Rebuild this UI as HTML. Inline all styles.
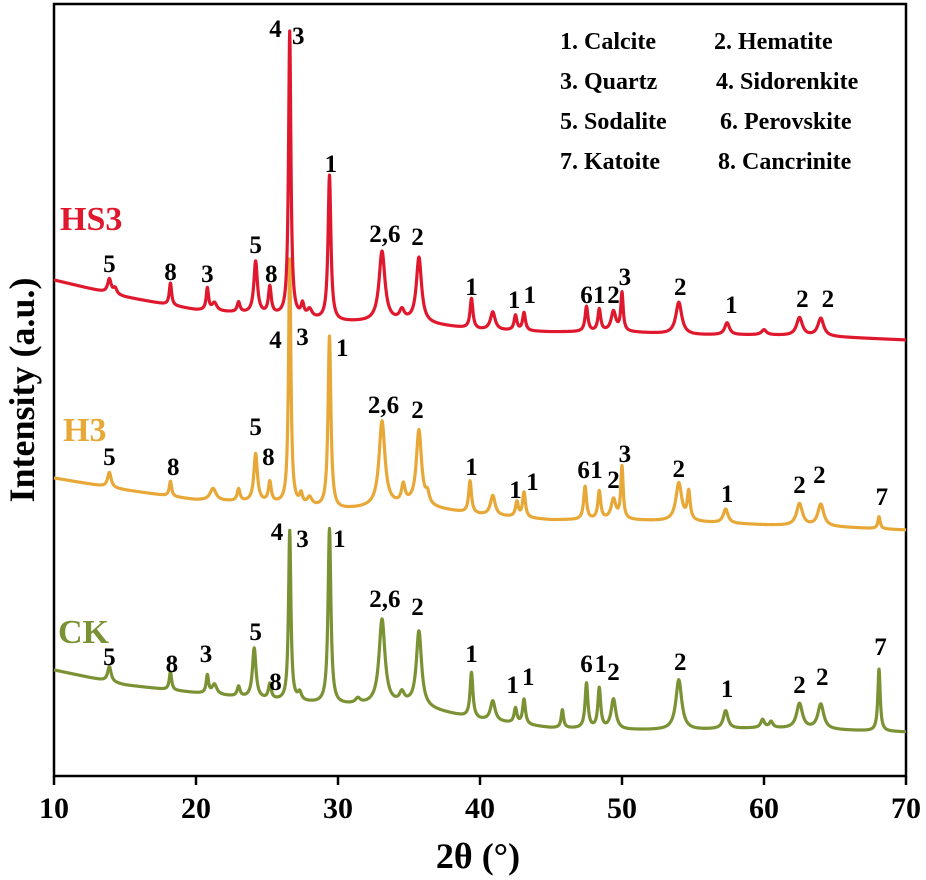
<!DOCTYPE html>
<html><head><meta charset="utf-8"><style>
html,body{margin:0;padding:0;background:#fff}
svg{display:block}
text{font-family:"Liberation Serif",serif;font-weight:bold}
</style></head><body>
<svg id="chart" width="926" height="880" viewBox="0 0 926 880" xmlns="http://www.w3.org/2000/svg">
<rect x="54" y="4" width="852" height="772" fill="none" stroke="#000" stroke-width="2.5"/>
<g id="xticks"></g>
<g id="series"></g>
<g id="peaklabels"></g>
<text x="478" y="868" font-size="36" text-anchor="middle">2θ (°)</text>
<text transform="translate(34,390) rotate(-90)" font-size="36" text-anchor="middle">Intensity (a.u.)</text>
<text x="60" y="230" font-size="34" fill="#e0182d">HS3</text>
<text x="63" y="441" font-size="34" fill="#e8a838">H3</text>
<text x="58" y="643" font-size="34" fill="#7a9233">CK</text>
<g font-size="24">
<text x="560" y="49">1. Calcite</text>
<text x="714" y="49">2. Hematite</text>
<text x="560" y="89">3. Quartz</text>
<text x="716" y="89">4. Sidorenkite</text>
<text x="560" y="129">5. Sodalite</text>
<text x="720" y="129">6. Perovskite</text>
<text x="560" y="169">7. Katoite</text>
<text x="718" y="169">8. Cancrinite</text>
</g>
</svg>
<script>
// x-axis data
const xTicks = [10,20,30,40,50,60,70];
// baseline knots (theta) and baseline levels (a.u.)
const baseTheta = [10,15,20,25,30,35,40,45,50,55,60,65,70];
const hs3Base = [496,479,466,461,454,454,446,444,444,441,441,439,436];
const h3Base  = [298,286,276,273,266,271,261,256,256,254,251,249,246];
const ckBase  = [106,91,83,76,71,71,56,48,46,46,48,46,44];
// peaks: positions (2θ), heights (a.u.), widths (°)
const hs3PeakPos = [13.9,14.3,18.2,20.8,21.3,23.0,24.2,25.2,26.6,27.5,28.0,29.4,33.1,34.5,35.7,39.4,40.9,42.5,43.1,47.5,48.4,49.4,50.0,54.0,57.4,60.0,62.5,64.0];
const hs3PeakH   = [14,6,22,22,8,10,52,27,285,12,8,145,70,10,65,30,18,15,18,25,22,20,38,32,12,5,18,18];
const hs3PeakW   = [0.15,0.15,0.1,0.1,0.2,0.12,0.15,0.12,0.1,0.12,0.2,0.12,0.25,0.2,0.22,0.12,0.2,0.12,0.12,0.12,0.12,0.2,0.1,0.25,0.2,0.2,0.25,0.25];
const h3PeakPos = [13.9,18.2,21.2,23.0,24.2,25.2,26.6,27.4,28.0,29.4,33.1,34.6,35.7,36.3,39.3,40.9,42.6,43.1,47.4,48.4,49.4,50.0,54.0,54.7,57.3,62.5,64.0,68.1];
const h3PeakH   = [15,15,12,12,48,20,245,10,8,172,85,18,75,10,32,20,15,25,33,28,20,52,38,28,14,22,22,12];
const h3PeakW   = [0.15,0.1,0.25,0.12,0.15,0.12,0.1,0.12,0.2,0.12,0.25,0.15,0.22,0.15,0.12,0.2,0.12,0.12,0.12,0.12,0.2,0.1,0.25,0.12,0.2,0.25,0.25,0.1];
const ckPeakPos = [13.9,18.2,20.8,21.3,23.0,24.1,25.2,26.6,27.3,29.4,31.4,33.1,34.5,35.7,39.4,40.9,42.5,43.1,45.8,47.5,48.4,49.4,54.0,57.3,59.9,60.5,62.5,64.0,68.1];
const ckPeakH   = [15,18,18,10,10,50,15,170,8,175,5,85,10,75,45,20,15,25,18,45,40,30,50,18,8,6,25,25,62];
const ckPeakW   = [0.15,0.1,0.1,0.2,0.12,0.15,0.12,0.1,0.15,0.12,0.2,0.25,0.2,0.22,0.12,0.2,0.12,0.12,0.1,0.12,0.12,0.2,0.25,0.2,0.15,0.15,0.25,0.25,0.1];
// peak annotations: theta, intensity level (a.u.), text
const hs3LabTheta = [13.9,18.2,20.8,24.2,25.3,25.6,27.2,29.5,33.3,35.6,39.4,42.4,43.5,47.5,48.4,49.4,50.2,54.1,57.7,62.7,64.5];
const hs3LabLevel = [504,496,494,523,494,739,732,604,534,531,481,468,473,473,473,473,491,481,463,469,469];
const hs3LabText = ["5","8","3","5","8","4","3","1","2,6","2","1","1","1","6","1","2","3","2","1","2","2"];
const h3LabTheta = [13.9,18.4,24.2,25.1,25.6,27.5,30.3,33.2,35.6,39.4,42.5,43.7,47.3,48.2,49.4,50.2,54.0,57.4,62.5,63.9,68.3];
const h3LabLevel = [311,301,341,311,428,431,420,363,358,301,278,286,298,298,288,314,299,274,283,293,271];
const h3LabText = ["5","8","5","8","4","3","1","2,6","2","1","1","1","6","1","2","3","2","1","2","2","7"];
const ckLabTheta = [13.9,18.3,20.7,24.2,25.6,25.7,27.5,30.1,33.3,35.6,39.4,42.3,43.4,47.5,48.5,49.4,54.1,57.4,62.5,64.1,68.2];
const ckLabLevel = [111,104,114,136,86,236,229,229,169,161,114,83,91,104,104,96,106,79,83,91,121];
const ckLabText = ["5","8","3","5","8","4","3","1","2,6","2","1","1","1","6","1","2","2","1","2","2","7"];

const X0=54, X1=906, Y0=776;
const xScale = t => X0 + (t-10)*(X1-X0)/60;
const yScale = v => Y0 - v;
const NS="http://www.w3.org/2000/svg";

const xt=document.getElementById('xticks');
xTicks.forEach(t=>{
  const l=document.createElementNS(NS,'line');
  l.setAttribute('x1',xScale(t));l.setAttribute('x2',xScale(t));
  l.setAttribute('y1',Y0);l.setAttribute('y2',Y0+9);
  l.setAttribute('stroke','#000');l.setAttribute('stroke-width','2.5');
  
  
  xt.appendChild(l);
  const tx=document.createElementNS(NS,'text');
  tx.setAttribute('x',xScale(t));tx.setAttribute('y',Y0+42);
  tx.setAttribute('font-size','30');tx.setAttribute('text-anchor','middle');
  tx.textContent=t;
  
  
  xt.appendChild(tx);
});

function baseAt(base,t){
  for(let i=0;i<baseTheta.length-1;i++){
    if(t<=baseTheta[i+1]){const f=(t-baseTheta[i])/(baseTheta[i+1]-baseTheta[i]);return base[i]+f*(base[i+1]-base[i]);}
  }
  return base[base.length-1];
}
function intensity(base,pos,h,w,t){
  let v=baseAt(base,t);
  for(let i=0;i<pos.length;i++){const d=(t-pos[i])/w[i];v+=h[i]/(1+d*d);}
  return v;
}
const sg=document.getElementById('series');
function drawSeries(base,pos,h,w,color,name){
  let d='';
  for(let t=10;t<=70.0001;t+=0.02){
    d+=(d?'L':'M')+xScale(t).toFixed(2)+','+yScale(intensity(base,pos,h,w,t)).toFixed(2);
  }
  const p=document.createElementNS(NS,'path');
  p.setAttribute('d',d);p.setAttribute('fill','none');p.setAttribute('stroke',color);
  p.setAttribute('stroke-width','3.2');p.setAttribute('stroke-linejoin','round');
  
  
  sg.appendChild(p);
}
drawSeries(ckBase,ckPeakPos,ckPeakH,ckPeakW,'#7a9233','series-ck');
drawSeries(h3Base,h3PeakPos,h3PeakH,h3PeakW,'#e8a838','series-h3');
drawSeries(hs3Base,hs3PeakPos,hs3PeakH,hs3PeakW,'#e0182d','series-hs3');

const pl=document.getElementById('peaklabels');
function drawLabels(th,lv,tx,name){
  th.forEach((t,i)=>{
    const e=document.createElementNS(NS,'text');
    e.setAttribute('x',xScale(t));e.setAttribute('y',yScale(lv[i]));
    e.setAttribute('font-size','25');e.setAttribute('text-anchor','middle');
    e.textContent=tx[i];
    
    
    pl.appendChild(e);
  });
}
drawLabels(hs3LabTheta,hs3LabLevel,hs3LabText,'hs3-peak-label');
drawLabels(h3LabTheta,h3LabLevel,h3LabText,'h3-peak-label');
drawLabels(ckLabTheta,ckLabLevel,ckLabText,'ck-peak-label');
</script>
</body></html>
